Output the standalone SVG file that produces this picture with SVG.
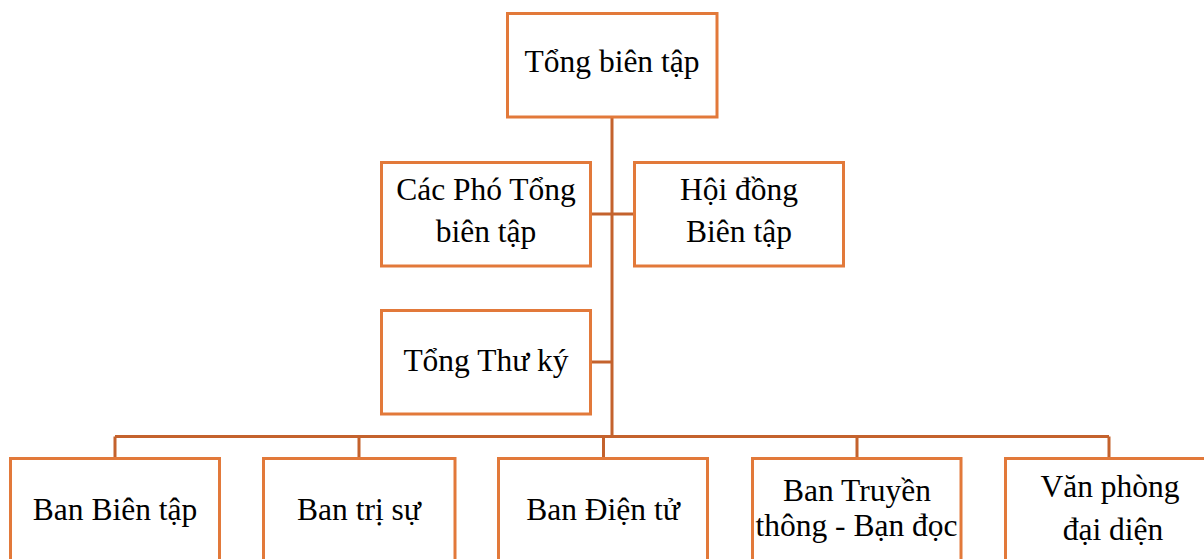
<svg xmlns="http://www.w3.org/2000/svg" width="1204" height="559" viewBox="0 0 1204 559">
<style>
.box{fill:#fff;stroke:#E2793A;stroke-width:3}
.t{font-family:"Liberation Serif","Times New Roman",serif;font-size:31.5px;fill:#000;text-anchor:middle}
.c{fill:none;stroke:#C4622D;stroke-width:3}
</style>
<rect width="1204" height="559" fill="#fff"/>
<g id="connectors">
<path class="c" d="M612 117 V436.5"/>
<path class="c" d="M591 214 H634"/>
<path class="c" d="M591 362 H612"/>
<path class="c" d="M115 436.5 H1109"/>
<path class="c" d="M115 436.5 V458 M359 436.5 V458 M603.5 436.5 V458 M857 436.5 V458 M1109 436.5 V458"/>
</g>
<g id="n-tong-bien-tap"><rect class="box" x="507.5" y="13.5" width="209.5" height="103.5"/><text class="t" x="612" y="72">Tổng biên tập</text></g>
<g id="n-pho-tong"><rect class="box" x="381.5" y="162.5" width="209" height="103.5"/><text class="t"><tspan x="486" y="200">Các Phó Tổng</tspan><tspan x="486" y="242">biên tập</tspan></text></g>
<g id="n-hoi-dong"><rect class="box" x="634.5" y="162.5" width="209" height="103.5"/><text class="t"><tspan x="739" y="200">Hội đồng</tspan><tspan x="739" y="242">Biên tập</tspan></text></g>
<g id="n-tong-thu-ky"><rect class="box" x="381.5" y="310.5" width="209" height="103.5"/><text class="t" x="486" y="371">Tổng Thư ký</text></g>
<g id="n-ban-bien-tap"><rect class="box" x="10.5" y="458.5" width="209" height="120"/><text class="t" x="115" y="520">Ban Biên tập</text></g>
<g id="n-ban-tri-su"><rect class="box" x="263.5" y="458.5" width="191.5" height="120"/><text class="t" x="359" y="520">Ban trị sự</text></g>
<g id="n-ban-dien-tu"><rect class="box" x="498.5" y="458.5" width="209" height="120"/><text class="t" x="603" y="520">Ban Điện tử</text></g>
<g id="n-ban-truyen-thong"><rect class="box" x="752.5" y="458.5" width="208.5" height="120"/><text class="t"><tspan x="857" y="500.5">Ban Truyền</tspan><tspan x="856.5" y="535.5">thông - Bạn đọc</tspan></text></g>
<g id="n-van-phong"><rect class="box" x="1005.5" y="458.5" width="209" height="120"/><text class="t"><tspan x="1110" y="497">Văn phòng</tspan><tspan x="1113" y="540">đại diện</tspan></text></g>
</svg>
